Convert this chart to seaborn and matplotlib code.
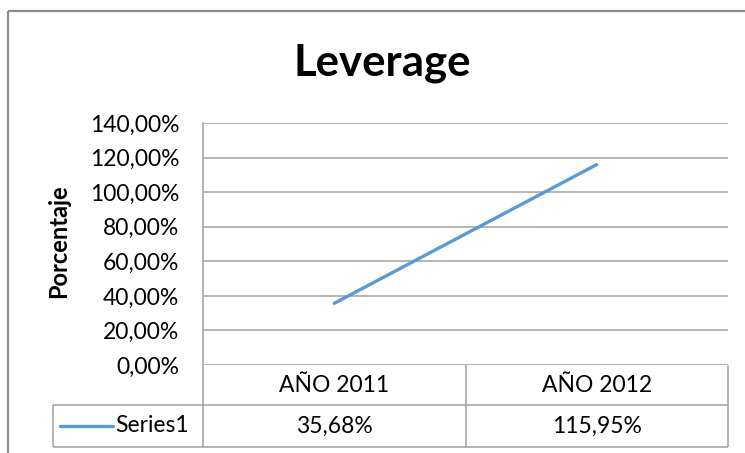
import matplotlib
matplotlib.use("Agg")
import matplotlib.pyplot as plt
import matplotlib.transforms as mtransforms
from matplotlib.lines import Line2D
from matplotlib.ticker import FuncFormatter
import seaborn as sns
import pandas as pd

# Data
categories = ["AÑO 2011", "AÑO 2012"]
series_name = "Series1"
leverage_pct = [35.68, 115.95]
y_ticks = [0, 20, 40, 60, 80, 100, 120, 140]

sns.set_theme(style="white")
plt.rcParams["font.family"] = ["Lato", "DejaVu Sans"]

W, H = 745, 453
DPI = 100
fig = plt.figure(figsize=(W / DPI, H / DPI), dpi=DPI)
fig.patch.set_facecolor("white")

# layout helpers in pixel units (origin top-left)
def fx(px):
    return px / W

def fy(py):
    return 1 - py / H

PLOT_L, PLOT_R, PLOT_T, PLOT_B = 203, 728, 123, 365
ROW1_B, ROW2_B, LEG_L = 405, 447, 53
DIV_X = 466
GRID = "#a0a0a0"
LINE_BLUE = "#5b9bd5"
TXT = 16.5

ax = fig.add_axes([fx(PLOT_L), fy(PLOT_B), fx(PLOT_R - PLOT_L), (PLOT_B - PLOT_T) / H])

df = pd.DataFrame({"pos": range(len(categories)), "value": leverage_pct, "serie": series_name})
sns.lineplot(data=df, x="pos", y="value", ax=ax, color=LINE_BLUE, linewidth=2.4,
             solid_capstyle="round", legend=False)

ax.set_xlim(-0.5, len(categories) - 0.5)
ax.set_ylim(y_ticks[0], y_ticks[-1])
ax.set_yticks(y_ticks)
ax.yaxis.set_major_formatter(FuncFormatter(lambda v, _: f"{v:.2f}%".replace(".", ",")))
ax.set_xticks([])
ax.tick_params(axis="y", length=0, pad=17, labelsize=TXT, colors="#000000")
for lbl in ax.get_yticklabels():
    lbl.set_color("#000000")
ax.grid(axis="y", color=GRID, linewidth=1.1)
ax.set_axisbelow(True)
for side in ["top", "right", "bottom"]:
    ax.spines[side].set_visible(False)
ax.spines["left"].set_color(GRID)
ax.spines["left"].set_linewidth(1.1)
ax.set_xlabel("")
ax.set_ylabel("")

# title and axis title
fig.text(fx(382), fy(63), "Leverage", ha="center", va="center",
         fontsize=31.5, fontweight="bold", color="#000000")
fig.text(fx(59), fy(241), "Porcentaje", ha="center", va="center", rotation=90,
         fontsize=17, fontweight="bold", color="#000000")

# outer chart frame
def seg(x0, y0, x1, y1, color=GRID, lw=1.1):
    fig.add_artist(Line2D([fx(x0), fx(x1)], [fy(y0), fy(y1)], transform=fig.transFigure,
                          color=color, linewidth=lw, solid_capstyle="butt"))

seg(8, 11, W + 5, 11, color="#8c8c8c", lw=1.6)
seg(8, 11, 8, H + 5, color="#8c8c8c", lw=1.6)

# data table below the plot
seg(PLOT_L, PLOT_B, PLOT_L, ROW2_B)
seg(DIV_X, PLOT_B, DIV_X, ROW2_B)
seg(PLOT_R, PLOT_B, PLOT_R, ROW2_B)
seg(LEG_L, ROW1_B, PLOT_R, ROW1_B)
seg(LEG_L, ROW2_B, PLOT_R, ROW2_B)
seg(LEG_L, ROW1_B, LEG_L, ROW2_B)

trans = mtransforms.blended_transform_factory(ax.transData, fig.transFigure)
for i, (cat, val) in enumerate(zip(categories, leverage_pct)):
    ax.text(i, fy((PLOT_B + ROW1_B) / 2), cat, transform=trans, ha="center", va="center",
            fontsize=TXT, color="#000000", clip_on=False)
    ax.text(i, fy((ROW1_B + ROW2_B) / 2), f"{val:.2f}%".replace(".", ","), transform=trans,
            ha="center", va="center", fontsize=TXT, color="#000000", clip_on=False)

# legend key inside the table
row_mid = fy((ROW1_B + ROW2_B) / 2)
fig.add_artist(Line2D([fx(60), fx(113)], [row_mid, row_mid], transform=fig.transFigure,
                      color=LINE_BLUE, linewidth=2.4))
fig.text(fx(115), row_mid, series_name, ha="left", va="center", fontsize=TXT, color="#000000")

fig.savefig("out.png", dpi=DPI, facecolor="white")
